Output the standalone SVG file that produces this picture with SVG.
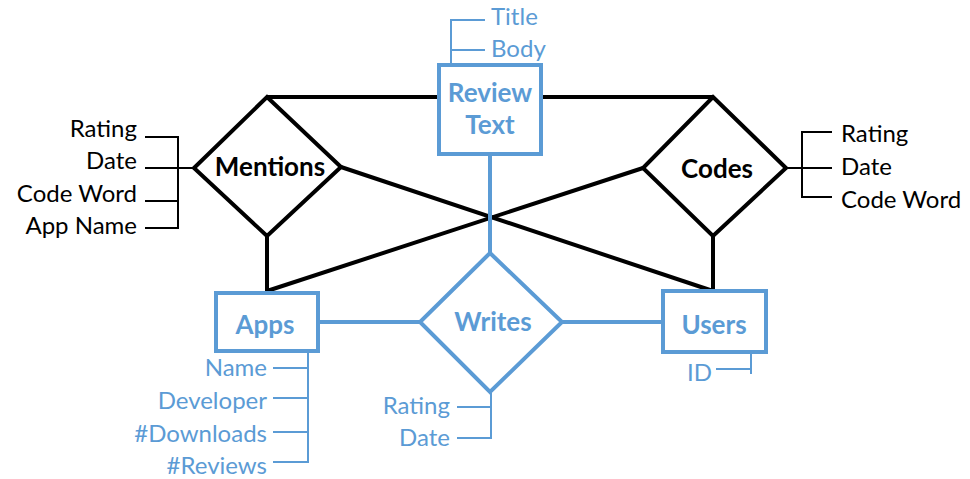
<svg xmlns="http://www.w3.org/2000/svg" width="970" height="479" viewBox="0 0 970 479">
  <style>
    .bg { fill: #ffffff; }
    .blk { stroke: #000000; stroke-width: 4; fill: none; }
    .blu { stroke: #5B9BD5; stroke-width: 4; fill: none; }
    .shape-blk { stroke: #000000; stroke-width: 4; fill: #ffffff; stroke-linejoin: miter; }
    .shape-blu { stroke: #5B9BD5; stroke-width: 4; fill: #ffffff; stroke-linejoin: miter; }
    .attr-blk { stroke: #000000; stroke-width: 2; fill: none; }
    .attr-blu { stroke: #5B9BD5; stroke-width: 2; fill: none; }
    .lbl { font-family: Lato, "Liberation Sans", sans-serif; font-size: 26px; font-weight: bold; text-anchor: middle; }
    .att { font-family: Lato, "Liberation Sans", sans-serif; font-size: 24px; }
    .k { fill: #000000; }
    .b { fill: #5B9BD5; }
    .r { text-anchor: end; }
  </style>
  <rect class="bg" x="0" y="0" width="970" height="479"/>

  <!-- relationship connectors -->
  <g id="connectors">
    <line class="blk" x1="267" y1="97" x2="439" y2="97"/>
    <line class="blk" x1="541" y1="97" x2="713" y2="97"/>
    <line class="blk" x1="341" y1="167" x2="713" y2="291"/>
    <line class="blk" x1="643" y1="168" x2="267" y2="291"/>
    <line class="blk" x1="267" y1="236" x2="267" y2="293"/>
    <line class="blk" x1="713" y1="236" x2="713" y2="291"/>
    <line class="blu" x1="490" y1="155" x2="490" y2="253"/>
    <line class="blu" x1="318" y1="322" x2="420" y2="322"/>
    <line class="blu" x1="562" y1="322" x2="663" y2="322"/>
  </g>

  <!-- Review Text entity -->
  <g id="review-text">
    <polyline class="attr-blu" points="485,20 451,20 451,63"/>
    <line class="attr-blu" x1="451" y1="50" x2="485" y2="50"/>
    <text class="att b" x="491" y="25">Title</text>
    <text class="att b" x="491" y="57">Body</text>
    <rect class="shape-blu" x="439" y="65" width="102" height="89"/>
    <text class="lbl b" x="490" y="102">Review</text>
    <text class="lbl b" x="490" y="134">Text</text>
  </g>

  <!-- Mentions relationship -->
  <g id="mentions">
    <line class="attr-blk" x1="145" y1="137" x2="178" y2="137"/>
    <line class="attr-blk" x1="145" y1="168" x2="194" y2="168"/>
    <line class="attr-blk" x1="145" y1="201" x2="178" y2="201"/>
    <line class="attr-blk" x1="145" y1="228" x2="178" y2="228"/>
    <line class="attr-blk" x1="178" y1="136" x2="178" y2="229"/>
    <text class="att k r" x="137" y="137">Rating</text>
    <text class="att k r" x="137" y="169">Date</text>
    <text class="att k r" x="137" y="202">Code Word</text>
    <text class="att k r" x="137" y="234">App Name</text>
    <polygon class="shape-blk" points="267,97 341,167 267,236 194,168"/>
    <text class="lbl k" x="270" y="176">Mentions</text>
  </g>

  <!-- Codes relationship -->
  <g id="codes">
    <line class="attr-blk" x1="786" y1="168" x2="832" y2="168"/>
    <polyline class="attr-blk" points="832,132 802,132 802,197 832,197"/>
    <text class="att k" x="841" y="142">Rating</text>
    <text class="att k" x="841" y="175">Date</text>
    <text class="att k" x="841" y="208">Code Word</text>
    <polygon class="shape-blk" points="713,97 786,168 713,236 643,168"/>
    <text class="lbl k" x="717" y="178">Codes</text>
  </g>

  <!-- Writes relationship -->
  <g id="writes">
    <polyline class="attr-blu" points="491,393 491,438 457,438"/>
    <line class="attr-blu" x1="457" y1="407" x2="491" y2="407"/>
    <text class="att b r" x="450" y="414">Rating</text>
    <text class="att b r" x="450" y="446">Date</text>
    <polygon class="shape-blu" points="490,253 562,322 490,392 420,322"/>
    <text class="lbl b" x="493" y="331">Writes</text>
  </g>

  <!-- Apps entity -->
  <g id="apps">
    <line class="attr-blu" x1="308" y1="353" x2="308" y2="463"/>
    <line class="attr-blu" x1="273" y1="368" x2="308" y2="368"/>
    <line class="attr-blu" x1="273" y1="398" x2="308" y2="398"/>
    <line class="attr-blu" x1="273" y1="432" x2="308" y2="432"/>
    <line class="attr-blu" x1="273" y1="462" x2="308" y2="462"/>
    <text class="att b r" x="267" y="376">Name</text>
    <text class="att b r" x="267" y="409">Developer</text>
    <text class="att b r" x="267" y="442">#Downloads</text>
    <text class="att b r" x="267" y="474">#Reviews</text>
    <rect class="shape-blu" x="216" y="293" width="102" height="58"/>
    <text class="lbl b" x="265" y="334">Apps</text>
  </g>

  <!-- Users entity -->
  <g id="users">
    <polyline class="attr-blu" points="716,369 751,369"/>
    <line class="attr-blu" x1="751" y1="353" x2="751" y2="374"/>
    <text class="att b" x="687" y="381">ID</text>
    <rect class="shape-blu" x="663" y="291" width="103" height="61"/>
    <text class="lbl b" x="714" y="334">Users</text>
  </g>
</svg>
